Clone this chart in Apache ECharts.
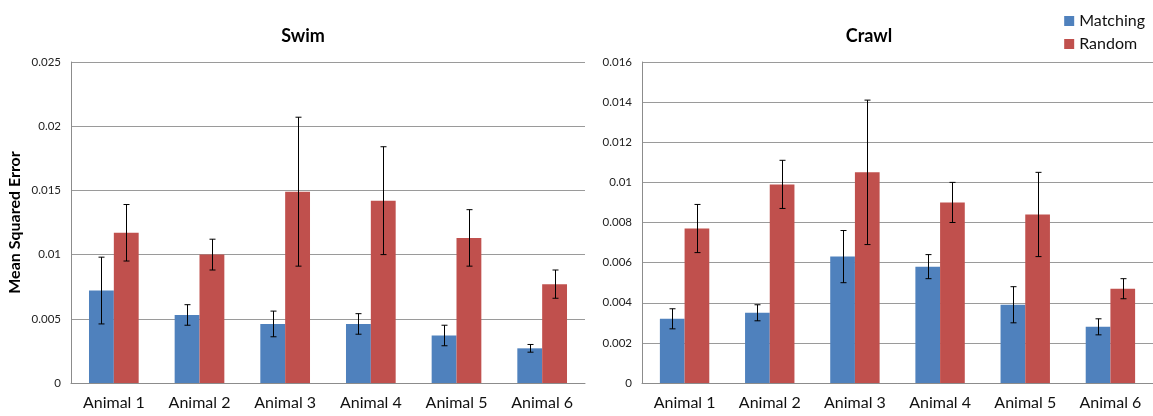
<!DOCTYPE html>
<html>
<head>
<meta charset="utf-8">
<script src="https://cdn.jsdelivr.net/npm/echarts@6/dist/echarts.min.js"></script>
<style>
html,body{margin:0;padding:0;background:#fff;}
#c{width:1153px;height:416px;}
</style>
</head>
<body>
<div id="c"></div>
<script>
const categories = ['Animal 1','Animal 2','Animal 3','Animal 4','Animal 5','Animal 6'];
const seriesNames = ['Matching','Random'];

const swimMatching    = [0.0072, 0.0053, 0.0046, 0.0046, 0.0037, 0.0027];
const swimMatchingErr = [0.0026, 0.0008, 0.0010, 0.0008, 0.0008, 0.0003];
const swimRandom      = [0.0117, 0.0100, 0.0149, 0.0142, 0.0113, 0.0077];
const swimRandomErr   = [0.0022, 0.0012, 0.0058, 0.0042, 0.0022, 0.0011];

const crawlMatching    = [0.0032, 0.0035, 0.0063, 0.0058, 0.0039, 0.0028];
const crawlMatchingErr = [0.0005, 0.0004, 0.0013, 0.0006, 0.0009, 0.0004];
const crawlRandom      = [0.0077, 0.0099, 0.0105, 0.0090, 0.0084, 0.0047];
const crawlRandomErr   = [0.0012, 0.0012, 0.0036, 0.0010, 0.0021, 0.0005];

const swimTicks  = {min: 0, max: 0.025, interval: 0.005};
const crawlTicks = {min: 0, max: 0.016, interval: 0.002};

const BLUE = '#4F81BD', RED = '#C0504D';
const FONT = 'Lato, "Open Sans", sans-serif';
const BAR_FRAC = 0.29;

function errSeries(vals, errs, gridIdx, side) {
  return {
    type: 'custom',
    xAxisIndex: gridIdx, yAxisIndex: gridIdx,
    z: 10, silent: true,
    data: vals.map((v, i) => [i, v, v - errs[i], v + errs[i]]),
    renderItem: function (params, api) {
      const catW = api.size([1, 0])[0];
      const off = side * BAR_FRAC * catW / 2;
      const lo = api.coord([api.value(0), api.value(2)]);
      const hi = api.coord([api.value(0), api.value(3)]);
      const x = Math.round(lo[0] + off) + 0.5;
      const cap = 3;
      const style = {stroke: '#000', lineWidth: 1, fill: null};
      return {
        type: 'group',
        children: [
          {type: 'line', shape: {x1: x, y1: hi[1], x2: x, y2: lo[1]}, style: style},
          {type: 'line', shape: {x1: x - cap, y1: hi[1], x2: x + cap, y2: hi[1]}, style: style},
          {type: 'line', shape: {x1: x - cap, y1: lo[1], x2: x + cap, y2: lo[1]}, style: style}
        ]
      };
    }
  };
}

function xAx(gridIndex) {
  return {
    type: 'category', gridIndex: gridIndex, data: categories,
    axisLine: {lineStyle: {color: '#8c8c8c', width: 1}},
    axisTick: {show: false},
    axisLabel: {color: '#111', fontSize: 16, fontFamily: FONT, margin: 12, interval: 0}
  };
}
function yAx(gridIndex, t, name) {
  return {
    type: 'value', gridIndex: gridIndex, min: t.min, max: t.max, interval: t.interval,
    name: name, nameLocation: 'middle', nameGap: 48,
    nameTextStyle: {fontSize: 16, fontWeight: 'bold', color: '#000', fontFamily: FONT},
    axisLine: {show: true, lineStyle: {color: '#8c8c8c', width: 1}},
    axisTick: {show: false},
    splitLine: {lineStyle: {color: '#9a9a9a', width: 1}},
    axisLabel: {color: '#222', fontSize: 11.5, fontFamily: FONT, margin: 10,
      formatter: v => v === 0 ? '0' : String(+v.toFixed(4))}
  };
}
function bar(name, data, gridIdx, color) {
  return {
    name: name, type: 'bar', xAxisIndex: gridIdx, yAxisIndex: gridIdx,
    data: data, barWidth: (BAR_FRAC * 100) + '%', barGap: '0%',
    itemStyle: {color: color}
  };
}

const chart = echarts.init(document.getElementById('c'));
chart.setOption({
  animation: false,
  backgroundColor: '#fff',
  title: [
    {text: 'Swim', left: 298, top: 22, textAlign: 'center',
     textStyle: {fontSize: 18, fontWeight: 'bold', color: '#000', fontFamily: FONT}},
    {text: 'Crawl', left: 864, top: 22, textAlign: 'center',
     textStyle: {fontSize: 18, fontWeight: 'bold', color: '#000', fontFamily: FONT}}
  ],
  legend: {
    data: seriesNames, orient: 'vertical', right: 3, top: 8,
    itemWidth: 10, itemHeight: 10, itemGap: 7, icon: 'rect',
    textStyle: {fontSize: 16, color: '#111', fontFamily: FONT}
  },
  grid: [
    {left: 71, top: 62, width: 514, height: 321},
    {left: 642, top: 62, width: 514, height: 321}
  ],
  xAxis: [xAx(0), xAx(1)],
  yAxis: [yAx(0, swimTicks, 'Mean Squared Error'), yAx(1, crawlTicks, '')],
  series: [
    bar(seriesNames[0], swimMatching, 0, BLUE),
    bar(seriesNames[1], swimRandom, 0, RED),
    bar(seriesNames[0], crawlMatching, 1, BLUE),
    bar(seriesNames[1], crawlRandom, 1, RED),
    errSeries(swimMatching, swimMatchingErr, 0, -1),
    errSeries(swimRandom, swimRandomErr, 0, 1),
    errSeries(crawlMatching, crawlMatchingErr, 1, -1),
    errSeries(crawlRandom, crawlRandomErr, 1, 1)
  ]
});
</script>
</body>
</html>
